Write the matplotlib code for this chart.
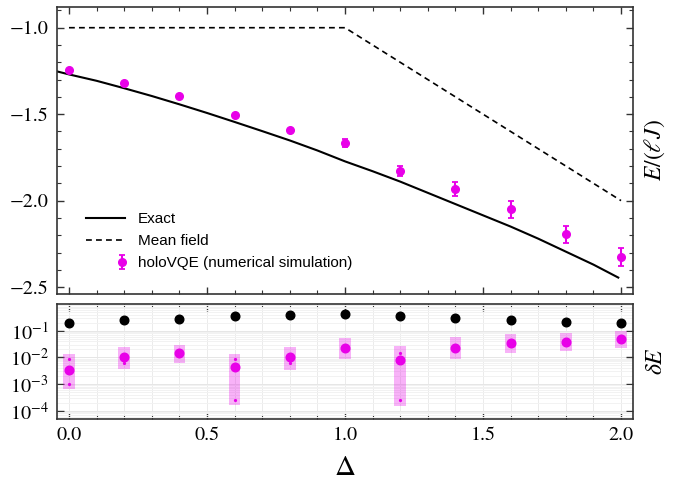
import numpy as np
import matplotlib
matplotlib.use('Agg')
import matplotlib.pyplot as plt
from matplotlib.ticker import MultipleLocator, LogLocator, NullFormatter
from matplotlib.legend_handler import HandlerErrorbar

plt.rcParams['font.family'] = 'STIXGeneral'
plt.rcParams['mathtext.fontset'] = 'stix'

# exact
delta_exact = [-0.05, 0.0, 0.1, 0.2, 0.3, 0.4, 0.5, 0.6, 0.7, 0.8, 0.9, 1.0,
               1.1, 1.2, 1.3, 1.4, 1.5, 1.6, 1.7, 1.8, 1.9, 1.99]
e_exact = [-1.25, -1.27, -1.307, -1.35, -1.395, -1.443, -1.493, -1.545, -1.598, -1.652, -1.71, -1.773,
           -1.83, -1.89, -1.955, -2.02, -2.085, -2.15, -2.22, -2.295, -2.37, -2.445]

# mean field
delta_mf = [0.0, 1.0, 2.0]
e_mf = [-1.0, -1.0, -2.0]

# holoVQE numerical simulation
delta = [0.0, 0.2, 0.4, 0.6, 0.8, 1.0, 1.2, 1.4, 1.6, 1.8, 2.0]
e_vqe = [-1.245, -1.318, -1.395, -1.503, -1.591, -1.668, -1.827, -1.932, -2.050, -2.194, -2.324]
e_err = [0.004, 0.004, 0.004, 0.005, 0.006, 0.023, 0.03, 0.04, 0.049, 0.05, 0.052]

# relative errors (bottom panel), log10 values
log_mf = [-0.71, -0.59, -0.55, -0.46, -0.42, -0.374, -0.46, -0.535, -0.59, -0.66, -0.71]
log_vqe = [-2.46, -1.986, -1.85, -2.37, -1.986, -1.64, -2.11, -1.64, -1.46, -1.41, -1.32]
log_box_hi = [-1.87, -1.62, -1.54, -1.87, -1.62, -1.26, -1.57, -1.25, -1.12, -1.07, -1.01]
log_box_lo = [-3.2, -2.44, -2.22, -3.79, -2.47, -2.07, -3.81, -2.05, -1.82, -1.75, -1.64]
log_dot_hi = [-2.06, None, None, -2.06, None, None, -1.82, None, None, None, None]
log_dot_lo = [-2.99, -2.2, None, -3.59, -2.2, None, -3.6, None, None, None, None]

magenta = '#E800E8'


class RightErrorbar(HandlerErrorbar):
    def get_xdata(self, legend, xdescent, ydescent, width, height, fontsize):
        return [-xdescent, -xdescent + width], [-xdescent + 0.92 * width]


fig = plt.figure(figsize=(6.79, 4.8), dpi=100)
ax1 = fig.add_axes([0.0839, 0.3875, 0.8484, 0.598])
ax2 = fig.add_axes([0.0839, 0.1271, 0.8484, 0.2396])

ax1.plot(delta_exact, e_exact, color='black', lw=1.5, label='Exact')
ax1.plot(delta_mf, e_mf, color='black', lw=1.2, ls=(0, (3.5, 2.5)), label='Mean field')
ax1.errorbar(delta, e_vqe, yerr=e_err, fmt='o', color=magenta, ms=5.5, capsize=2.2,
             elinewidth=1.5, capthick=1.3, label='holoVQE (numerical simulation)')

ax1.set_xlim(-0.0435, 2.0435)
ax1.set_ylim(-2.54, -0.88)
ax1.xaxis.set_major_locator(MultipleLocator(0.5))
ax1.xaxis.set_minor_locator(MultipleLocator(0.1))
ax1.yaxis.set_major_locator(MultipleLocator(0.5))
ax1.yaxis.set_minor_locator(MultipleLocator(0.1))
ax1.set_xticklabels([])
ax1.yaxis.set_label_position('right')
ax1.set_ylabel(r'$E/(\ell J)$', fontsize=17, labelpad=7)

leg = ax1.legend(loc='upper left', bbox_to_anchor=(0.05, 0.285), frameon=False,
                 borderaxespad=0, borderpad=0, handlelength=2.6, handletextpad=0.8,
                 labelspacing=0.52, prop={'family': 'Liberation Sans', 'size': 11},
                 handler_map={type(ax1.containers[0]): RightErrorbar(xerr_size=0.3, yerr_size=0.45)})

# bottom panel
d = np.array(delta)
ax2.grid(True, which='both', axis='x', color='#ebebeb', lw=0.7)
ax2.grid(True, which='major', axis='y', color='#e6e6e6', lw=0.7)
ax2.grid(True, which='minor', axis='y', color='#f2f2f2', lw=0.7)
ax2.set_axisbelow(True)
for x, lo, hi in zip(delta, log_box_lo, log_box_hi):
    ax2.fill_between([x - 0.021, x + 0.021], 10 ** lo, 10 ** hi, color=magenta, alpha=0.3, lw=0)
ax2.plot(d, 10 ** np.array(log_mf), 'o', color='black', ms=6.2)
ax2.plot(d, 10 ** np.array(log_vqe), 'o', color=magenta, ms=6.2)
for x, lo, hi in zip(delta, log_dot_lo, log_dot_hi):
    for v in (lo, hi):
        if v is not None:
            ax2.plot([x], [10 ** v], 'o', color=magenta, ms=1.3)

ax2.set_yscale('log')
ax2.set_xlim(-0.0435, 2.0435)
ax2.set_ylim(10 ** -4.31, 1.0)
ax2.yaxis.set_minor_locator(LogLocator(base=10, subs=np.arange(2, 10), numticks=20))
ax2.yaxis.set_minor_formatter(NullFormatter())
ax2.set_yticks([1e-1, 1e-2, 1e-3, 1e-4])
ax2.set_yticklabels([r'$10^{-1}$', r'$10^{-2}$', r'$10^{-3}$', r'$10^{-4}$'])
ax2.yaxis.set_label_position('right')
ax2.set_ylabel(r'$\delta E$', fontsize=17, labelpad=9)
ax2.set_xlabel(r'$\Delta$', fontsize=21, labelpad=8)
ax2.set_xticks([0.0, 0.5, 1.0, 1.5, 2.0])
ax2.set_xticklabels(['0.0', '0.5', '1.0', '1.5', '2.0'])
ax2.xaxis.set_minor_locator(MultipleLocator(0.1))

for ax in (ax1, ax2):
    ax.tick_params(which='both', direction='in', top=True, right=True, labelsize=14.5,
                   color='#333333')
    ax.tick_params(which='major', length=5, width=1, pad=6)
    ax.tick_params(which='minor', length=3, width=0.8)
    for s in ax.spines.values():
        s.set_linewidth(1.2)
        s.set_color('#333333')
ax2.tick_params(axis='y', which='minor', length=0)

fig.savefig('out.png', dpi=100)
